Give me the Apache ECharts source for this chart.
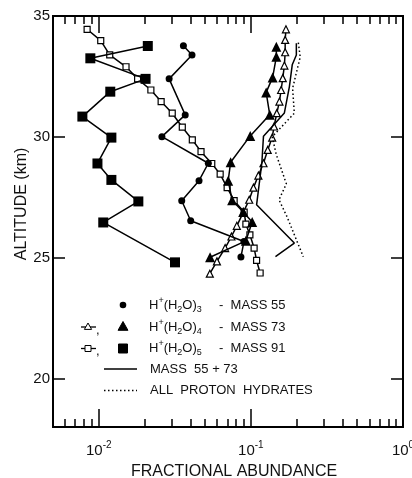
<!DOCTYPE html>
<html>
<head>
<meta charset="utf-8">
<script src="https://cdn.jsdelivr.net/npm/echarts@6/dist/echarts.min.js"></script>
<style>
  html, body { margin: 0; padding: 0; background: #fff; }
  #chart { width: 412px; height: 478px; }
</style>
</head>
<body>
<div id="chart"></div>
<script>
// altitude (km) / fractional abundance
const mass55Alt = [33.77, 33.39, 32.40, 30.91, 30.01, 28.91, 28.19, 27.36, 26.53, 25.67, 25.03]
const mass55Frac = [0.036, 0.041, 0.029, 0.037, 0.026, 0.0525, 0.0456, 0.0351, 0.0402, 0.090, 0.086]

const mass73OpenAlt = [34.45, 34.01, 33.50, 32.95, 32.43, 31.94, 31.46, 30.98, 30.43, 29.97, 29.46, 28.91, 28.40, 27.90, 27.40, 26.89, 26.32, 25.88, 25.40, 24.85, 24.34]
const mass73OpenFrac = [0.170, 0.168, 0.168, 0.166, 0.162, 0.158, 0.154, 0.148, 0.142, 0.138, 0.129, 0.121, 0.112, 0.104, 0.0975, 0.0893, 0.0808, 0.0745, 0.0677, 0.0598, 0.0537]

const mass73FilledAlt = [33.73, 33.31, 32.46, 31.84, 30.92, 30.04, 28.95, 28.19, 27.38, 26.89, 26.48, 25.70, 25.02]
const mass73FilledFrac = [0.147, 0.147, 0.139, 0.126, 0.133, 0.099, 0.0736, 0.0709, 0.0753, 0.089, 0.102, 0.0927, 0.0539]

const mass91OpenAlt = [34.45, 33.98, 33.39, 32.90, 32.40, 31.94, 31.46, 30.98, 30.40, 29.88, 29.39, 28.90, 28.46, 27.90, 27.36, 26.89, 26.39, 25.95, 25.40, 24.89, 24.37]
const mass91OpenFrac = [0.00838, 0.0103, 0.0118, 0.0151, 0.0180, 0.0220, 0.0257, 0.0304, 0.0354, 0.0412, 0.0470, 0.0553, 0.0628, 0.0698, 0.0776, 0.0903, 0.0927, 0.0985, 0.105, 0.109, 0.115]

const mass91FilledAlt = [33.76, 33.25, 32.40, 31.87, 30.84, 29.97, 28.90, 28.22, 27.33, 26.46, 24.81]
const mass91FilledFrac = [0.0210, 0.0088, 0.0203, 0.0119, 0.0078, 0.0121, 0.0098, 0.0121, 0.0182, 0.0107, 0.0317]

const sumAlt = [33.87, 33.39, 32.98, 32.07, 30.99, 30.03, 28.91, 27.19, 25.61, 25.05]
const sumFrac = [0.199, 0.199, 0.187, 0.179, 0.166, 0.121, 0.118, 0.109, 0.193, 0.145]

const allAlt = [33.90, 33.30, 32.01, 30.98, 30.00, 29.26, 28.06, 27.40, 26.69, 25.04]
const allFrac = [0.205, 0.211, 0.188, 0.193, 0.138, 0.147, 0.171, 0.153, 0.173, 0.221]

const xMajor = [0.01, 0.1, 1]
const yTicks = [20, 25, 30, 35]

const FONT = '"Liberation Sans", Arial, sans-serif'

const pairs = (xs, ys) => xs.map((x, i) => [x, ys[i]])

const xMinor = []
for (const d of [0.001, 0.01, 0.1]) {
    for (let k = 1; k < 10; k++) {
        const v = +(k * d).toPrecision(3)
        if (v >= 0.005 && v <= 1) xMinor.push(v)
    }
}

const frame = { show: true, onZero: false, lineStyle: { color: '#000', width: 2 } }

const logAxis = (position, len, ticks, withLabels) => ({
    type: 'log',
    logBase: 10,
    position,
    min: 0.005,
    max: 1,
    axisLine: frame,
    axisTick: { show: true, inside: true, length: len, customValues: ticks, lineStyle: { color: '#000', width: 1.5 } },
    axisLabel: withLabels ? {
        customValues: xMajor,
        margin: 13,
        formatter: v => '{b|10}{s|' + Math.round(Math.log10(v)) + '}',
        rich: {
            b: { fontSize: 15, fontFamily: FONT, color: '#111', lineHeight: 18, verticalAlign: 'bottom' },
            s: { fontSize: 10, fontFamily: FONT, color: '#111', lineHeight: 12, verticalAlign: 'top' }
        }
    } : { show: false },
    splitLine: { show: false }
})

const valAxis = (position, withLabels) => ({
    type: 'value',
    position,
    min: 18,
    max: 35,
    axisLine: frame,
    axisTick: { show: true, inside: true, length: 12, customValues: yTicks, lineStyle: { color: '#000', width: 1.5 } },
    axisLabel: withLabels ? { customValues: yTicks, fontSize: 15, fontFamily: FONT, color: '#111', margin: 3 } : { show: false },
    splitLine: { show: false }
})

const lineSeries = (name, data, symbol, size, filled, lineType) => ({
    name,
    type: 'line',
    data,
    symbol,
    symbolSize: size,
    showSymbol: symbol !== 'none',
    lineStyle: { color: '#000', width: 1.5, type: lineType || 'solid' },
    itemStyle: filled ? { color: '#000' } : { color: '#fff', borderColor: '#000', borderWidth: 1.2 },
    z: filled ? 4 : 3
})

// legend drawn by hand (row 2 and 3 have two keys each)
const legendText = (x, y, txt) => ({
    type: 'text', x, y,
    style: { text: txt, font: '13px ' + FONT, fill: '#111', verticalAlign: 'middle' }
})
const formula = (x, y, n) => ({
    type: 'text', x, y,
    style: {
        text: '{n|H}{p|+}{n|(H}{d|2}{n|O)}{d|' + n + '}',
        verticalAlign: 'middle',
        rich: {
            n: { fontSize: 13, fontFamily: FONT, fill: '#111', lineHeight: 18 },
            p: { fontSize: 9, fontFamily: FONT, fill: '#111', lineHeight: 10, verticalAlign: 'top' },
            d: { fontSize: 9, fontFamily: FONT, fill: '#111', lineHeight: 10, verticalAlign: 'bottom' }
        }
    }
})
const tri = (cx, cy, r, filled) => ({
    type: 'polygon',
    shape: { points: [[cx, cy - r], [cx + r * 0.9, cy + r * 0.6], [cx - r * 0.9, cy + r * 0.6]] },
    style: { fill: filled ? '#000' : '#fff', stroke: '#000', lineWidth: 1 }
})
const sq = (cx, cy, s, filled) => ({
    type: 'rect',
    shape: { x: cx - s / 2, y: cy - s / 2, width: s, height: s },
    style: { fill: filled ? '#000' : '#fff', stroke: '#000', lineWidth: 1 }
})
const seg = (x1, x2, y, dash) => ({
    type: 'line',
    shape: { x1, y1: y, x2, y2: y },
    style: { stroke: '#000', lineWidth: 1.3, lineDash: dash || null }
})

const chart = echarts.init(document.getElementById('chart'))
chart.setOption({
    animation: false,
    backgroundColor: '#fff',
    grid: { left: 53, right: 9, top: 16, bottom: 51, containLabel: false, outerBoundsMode: 'none' },
    xAxis: [
        Object.assign(logAxis('bottom', 8, xMinor, true), {
            name: 'FRACTIONAL ABUNDANCE',
            nameLocation: 'middle',
            nameGap: 37,
            nameTextStyle: { fontSize: 16, fontFamily: FONT, color: '#111', padding: [0, 0, 0, 12] }
        }),
        logAxis('bottom', 18, xMajor, false),
        logAxis('top', 8, xMinor, false),
        logAxis('top', 17, xMajor, false)
    ],
    yAxis: [valAxis('left', true), valAxis('right', false)],
    series: [
        lineSeries('Mass 91 open', pairs(mass91OpenFrac, mass91OpenAlt), 'rect', 6, false),
        lineSeries('Mass 73 open', pairs(mass73OpenFrac, mass73OpenAlt), 'triangle', 7, false),
        lineSeries('Mass 55+73', pairs(sumFrac, sumAlt), 'none', 0, true),
        lineSeries('All proton hydrates', pairs(allFrac, allAlt), 'none', 0, true, [1.5, 2.5]),
        lineSeries('Mass 55', pairs(mass55Frac, mass55Alt), 'circle', 7, true),
        lineSeries('Mass 73 filled', pairs(mass73FilledFrac, mass73FilledAlt), 'triangle', 10, true),
        lineSeries('Mass 91 filled', pairs(mass91FilledFrac, mass91FilledAlt), 'rect', 10, true)
    ],
    graphic: [
        {
            type: 'text', x: 22, y: 204, rotation: Math.PI / 2,
            style: { text: 'ALTITUDE (km)', font: '16px ' + FONT, fill: '#111', align: 'center', verticalAlign: 'middle' }
        },
        { type: 'circle', shape: { cx: 123, cy: 305, r: 3.3 }, style: { fill: '#000' } },
        formula(149, 305, '3'), legendText(219, 305, '-  MASS 55'),
        seg(81, 96, 327), tri(88, 327, 4, false), legendText(96, 330, ','), tri(123, 327, 5.5, true),
        formula(149, 327, '4'), legendText(219, 327, '-  MASS 73'),
        seg(81, 96, 348.5), sq(88, 348.5, 6, false), legendText(96, 351, ','), sq(123, 348.5, 9, true),
        formula(149, 348.5, '5'), legendText(219, 348.5, '-  MASS 91'),
        seg(104, 137, 369), legendText(150, 369, 'MASS  55 + 73'),
        seg(104, 137, 390.5, [1.5, 2.5]), legendText(150, 390.5, 'ALL  PROTON  HYDRATES')
    ]
})
</script>
</body>
</html>
